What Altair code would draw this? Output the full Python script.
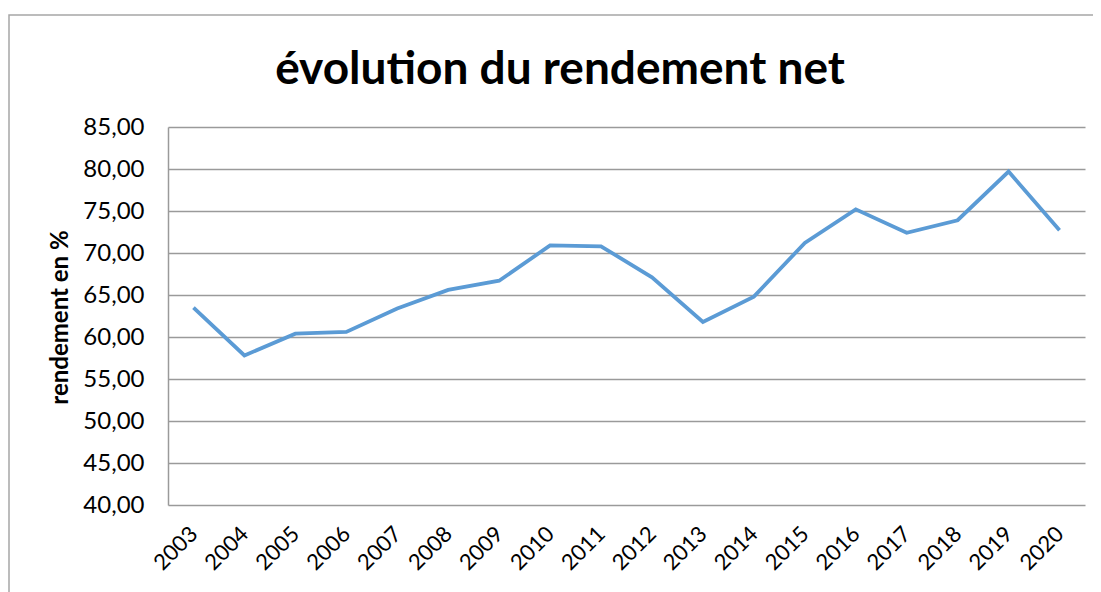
import altair as alt
import pandas as pd

years = [str(y) for y in range(2003, 2021)]
rendement = [63.5, 57.8, 60.4, 60.6, 63.4, 65.6, 66.7, 70.9, 70.8, 67.1,
             61.8, 64.8, 71.2, 75.2, 72.4, 73.9, 79.7, 72.7]
y_ticks = [40, 45, 50, 55, 60, 65, 70, 75, 80, 85]
title_text = ["évolution du rendement net"]

df = pd.DataFrame({"annee": years, "rendement": rendement})
df_title = pd.DataFrame({"t": title_text})

FONT = "Lato"

line = alt.Chart(df).mark_line(color="#5B9BD5", strokeWidth=3.8).encode(
    x=alt.X("annee:O", sort=years, title=None,
            scale=alt.Scale(type="point", padding=0.5),
            axis=alt.Axis(labelAngle=-45, labelAlign="right", labelBaseline="middle",
                          labelFontSize=22, labelFont=FONT, labelColor="#000",
                          labelPadding=25, ticks=False, domain=False, grid=False)),
    y=alt.Y("rendement:Q", title="rendement en %",
            scale=alt.Scale(domain=[40, 85], nice=False, zero=False),
            axis=alt.Axis(values=y_ticks,
                          labelExpr="replace(format(datum.value, '.2f'), '.', ',')",
                          labelFontSize=24, labelFont=FONT, labelColor="#000",
                          labelPadding=24, ticks=False,
                          domain=True, domainColor="#9a9a9a", domainWidth=1.5,
                          grid=True, gridColor="#9a9a9a", gridWidth=1.5,
                          titleFont=FONT, titleFontSize=24, titleFontWeight="bold",
                          titleColor="#000", titleX=-108, titleY=190,
                          titleAngle=-90, titleAlign="center", titleBaseline="middle")),
)

frame = alt.Chart(df_title).mark_rect(fill=None, stroke="#a6a6a6", strokeWidth=1.5).encode(
    x=alt.value(-159), x2=alt.value(960), y=alt.value(-112), y2=alt.value(520)
)

title = alt.Chart(df_title).mark_text(
    font=FONT, fontSize=46, fontWeight="bold", color="#000",
    align="center", baseline="alphabetic"
).encode(text="t:N", x=alt.value(392), y=alt.value(-43))

chart = alt.layer(frame, title, line).properties(
    width=917, height=378,
    padding={"left": 160, "top": 119, "right": 8, "bottom": 87},
    autosize=alt.AutoSizeParams(type="none"),
).configure_view(stroke=None)

chart.save("out.html", embed_options={"renderer": "svg", "actions": False})
